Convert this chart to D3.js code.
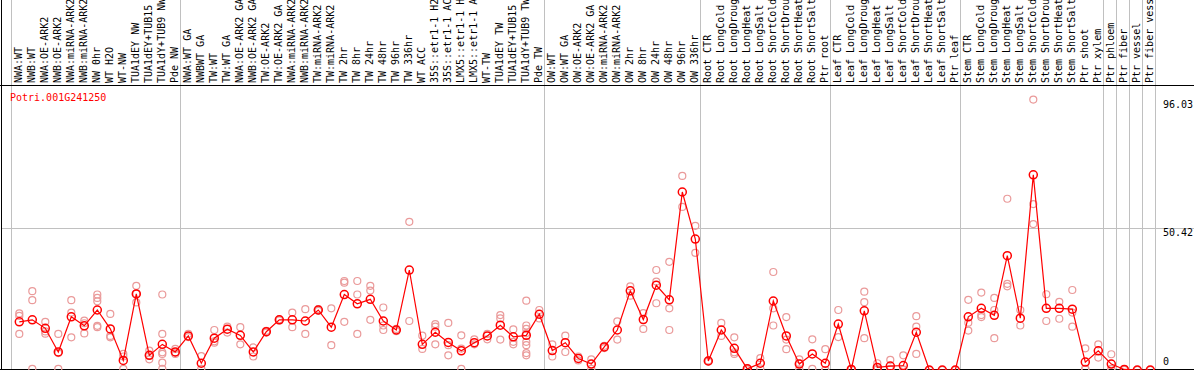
<!DOCTYPE html>
<html>
<head>
<meta charset="utf-8">
<script src="https://cdn.jsdelivr.net/npm/d3@7"></script>
<style>
    body { margin: 0; background: #fff; }
    text { font-family: "DejaVu Sans Mono", monospace; font-size: 10px; }
</style>
</head>
<body>
<div id="chart"></div>
<script>
const GENE = "Potri.001G241250";

const samples = [
    "NWA:WT", "NWB:WT", "NWA:OE-ARK2", "NWB:OE-ARK2", "NWA:miRNA-ARK2", "NWB:miRNA-ARK2",
    "NW 0hr", "WT H2O", "WT-NW", "TUA1dEY NW", "TUA1dEY+TUB15 NW", "TUA1dY+TUB9 NW", "Pde NW",
    "NWA:WT GA", "NWBWT GA", "TW:WT", "TW:WT GA", "NWA:OE-ARK2 GA", "NWB:OE-ARK2 GA",
    "TW:OE-ARK2", "TW:OE-ARK2 GA", "NWA:miRNA-ARK2 GA", "NWB:miRNA-ARK2 GA", "TW:miRNA-ARK2",
    "TW:miRNA-ARK2 GA", "TW 2hr", "TW 8hr", "TW 24hr", "TW 48hr", "TW 96hr", "TW 336hr",
    "WT ACC", "35S::etr1-1 H2O", "35S::etr1-1 ACC", "LMX5::etr1-1 H2O", "LMX5::etr1-1 ACC",
    "WT-TW", "TUA1dEY TW", "TUA1dEY+TUB15 TW", "TUA1dY+TUB9 TW", "Pde TW",
    "OW:WT", "OW:WT GA", "OW:OE-ARK2", "OW:OE-ARK2 GA", "OW:miRNA-ARK2", "OW:miRNA-ARK2 GA",
    "OW 2hr", "OW 8hr", "OW 24hr", "OW 48hr", "OW 96hr", "OW 336hr",
    "Root CTR", "Root LongCold", "Root LongDrought", "Root LongHeat", "Root LongSalt",
    "Root ShortCold", "Root ShortDrought", "Root ShortHeat", "Root ShortSalt", "Ptr root",
    "Leaf CTR", "Leaf LongCold", "Leaf LongDrought", "Leaf LongHeat", "Leaf LongSalt",
    "Leaf ShortCold", "Leaf ShortDrought", "Leaf ShortHeat", "Leaf ShortSalt", "Ptr leaf",
    "Stem CTR", "Stem LongCold", "Stem LongDrought", "Stem LongHeat", "Stem LongSalt",
    "Stem ShortCold", "Stem ShortDrought", "Stem ShortHeat", "Stem ShortSalt", "Ptr shoot", "Ptr xylem",
    "Ptr phloem", "Ptr fiber", "Ptr vessel", "Ptr fiber vessel"
];

// number of samples in each study block (separated by grey lines)
const groupSizes = [13, 28, 12, 10, 10, 11, 1, 1, 1, 1];

const means = [
    17.1, 17.8, 14.8, 6.4, 18.9, 15.7, 21.3, 14.6, 3.4, 27.0, 5.2, 9.1, 6.4,
    12.1, 2.4, 11.3, 14.5, 12.3, 6.4, 13.6, 17.8, 17.8, 17.4, 21.3, 15.2, 26.8, 23.5,
    25.1, 17.4, 14.2, 35.5, 9.1, 13.4, 9.8, 6.8, 9.7, 12.1, 15.9, 11.8, 12.3, 19.8,
    6.9, 9.7, 4.1, 2.1, 8.2, 14.2, 28.1, 17.9, 30.1, 24.9, 63.2, 46.5,
    3.2, 14.2, 7.7, 0.4, 2.4, 24.5, 12.1, 2.1, 5.7, 2.4,
    16.3, 0.2, 21.0, 0.9, 1.4, 1.6, 13.4, 0, 0, 0,
    18.9, 21.9, 19.4, 40.6, 18.4, 69.3, 21.9, 21.9, 21.6, 2.8, 6.8,
    2.1, 0.2, 0, 0
];

const replicates = [
    [20.1, 19.2, 12.8], [28.0, 24.8, 0.4], [17.1, 13.7, 12.9], [12.8, 6.0, 0.4],
    [24.8, 20.4, 11.6], [17.5, 16.6, 13.0], [26.8, 25.6, 24.4, 15.7, 15.2], [19.9, 12.1, 11.6],
    [5.7, 4.8, 0.4], [29.9, 27.1, 24.0], [6.9, 5.2, 3.8], [26.8, 12.8, 6.3, 5.7, 2.6, 0.4],
    [7.5, 6.2, 5.7],
    [12.8, 11.7], [4.9, 0.4], [14.2, 10.2, 9.7], [15.4, 13.3], [15.2, 9.1], [8.0, 4.8],
    [13.9, 13.3], [18.0, 17.6], [20.4, 15.2], [21.6, 12.8], [21.6, 21.0], [21.9, 8.8],
    [31.6, 31.0, 17.1], [31.6, 26.8, 12.8], [29.9, 28.2, 17.8], [22.2, 15.8, 14.2],
    [14.6, 13.8], [52.6, 17.4], [12.2, 7.5], [16.3, 15.4, 9.1], [16.7, 8.8, 5.2],
    [12.3, 7.6, 0.4], [10.9, 9.1], [12.8, 10.9], [19.5, 18.3, 10.8], [14.4, 10.0, 9.1],
    [24.6, 15.8, 14.6, 13.1, 10.0, 8.8, 6.0, 5.2], [21.3, 18.3],
    [9.1, 4.8], [12.2, 6.4], [4.8, 3.4], [3.8, 0.4], [8.6, 7.8], [17.3, 10.8],
    [29.7, 26.4], [20.2, 14.6], [35.5, 31.4, 23.7], [38.4, 21.9, 14.2], [68.9, 57.9], [51.2, 41.6],
    [3.4, 3.0], [16.7, 12.1], [11.6, 6.3, 5.7], [0.6, 0.2], [4.2, 0.6], [34.8, 21.9, 15.8],
    [18.8, 10.8, 7.4], [3.8, 2.4, 0.2], [10.9, 0.4], [7.4, 0, 0],
    [21.3, 11.7], [0.4, 0.2], [27.8, 24.1, 11.3], [2.4, 0.2, 0.2], [3.6, 0.4, 0.2],
    [5.2, 0.2, 0], [19.1, 15.4, 5.7], [0, 0], [0, 0], [0, 0],
    [24.9, 16.8, 14.0], [27.5, 19.5, 18.8], [25.6, 21.3, 11.3], [60.8, 30.6, 29.7],
    [21.3, 15.8], [96.03, 58.9, 51.8], [26.9, 17.4], [24.2, 18.2], [28.4, 20.4, 15.4],
    [7.7, 0.4, 0.4], [9.1, 4.4],
    [5.6, 0.4, 0.3], [0.3, 0], [0, 0], [0, 0]
];

const yMax = 100.84;
const yTicks = [96.03, 50.42, 0];

const width = 1194;
const height = 370;
const headerBottom = 85;

const svg = d3.select("#chart")
    .append("svg")
        .attr("width", width)
        .attr("height", height);

const x = d3.scaleBand()
    .domain(d3.range(samples.length))
    .range([11, 11 + 13 * samples.length]);

const y = d3.scaleLinear()
    .domain([0, yMax])
    .range([370, 86]);

const cx = i => x(i) + 8.3;
const edge = k => (k < samples.length ? x(k) : x.range()[1]) + 0.5;

// grey separators between study blocks
const bounds = [0].concat(Array.from(d3.cumsum(groupSizes)));
svg.selectAll(".sep")
    .data(bounds)
    .enter()
    .append("line")
        .attr("class", "sep")
        .attr("x1", d => edge(d))
        .attr("x2", d => edge(d))
        .attr("y1", 0)
        .attr("y2", height)
        .style("stroke", "#c0c0c0")
        .style("shape-rendering", "crispEdges");

// middle gridline
svg.append("line")
    .attr("x1", 1)
    .attr("x2", width)
    .attr("y1", Math.round(y(yMax / 2)) + 0.5)
    .attr("y2", Math.round(y(yMax / 2)) + 0.5)
    .style("stroke", "#c0c0c0")
    .style("shape-rendering", "crispEdges");

// frame
svg.append("line")
    .attr("x1", 0).attr("x2", width)
    .attr("y1", headerBottom + 0.5).attr("y2", headerBottom + 0.5)
    .style("stroke", "#000").style("shape-rendering", "crispEdges");
svg.append("line")
    .attr("x1", 0).attr("x2", width)
    .attr("y1", height - 0.5).attr("y2", height - 0.5)
    .style("stroke", "#000").style("shape-rendering", "crispEdges");
svg.append("line")
    .attr("x1", 1.5).attr("x2", 1.5)
    .attr("y1", 0).attr("y2", height)
    .style("stroke", "#000").style("shape-rendering", "crispEdges");

// sample labels
svg.selectAll(".label")
    .data(samples)
    .enter()
    .append("text")
        .attr("class", "label")
        .attr("transform", (d, i) => `translate(${x(i) + 11},${headerBottom - 2}) rotate(-90)`)
        .style("fill", "#000")
        .text(d => d);

// right side values
svg.selectAll(".ytick")
    .data(yTicks)
    .enter()
    .append("text")
        .attr("class", "ytick")
        .attr("x", 1163)
        .attr("y", d => d === 0 ? 365 : Math.round(y(d)) + 8)
        .style("fill", "#000")
        .text(d => d);

// gene name
svg.append("text")
    .attr("x", 10)
    .attr("y", 101)
    .style("fill", "#ff0000")
    .text(GENE);

// replicate points
const reps = [];
replicates.forEach((r, i) => r.forEach(v => reps.push({ i: i, v: v })));

svg.append("g")
    .selectAll("circle")
    .data(reps)
    .enter()
    .append("circle")
        .attr("cx", d => cx(d.i))
        .attr("cy", d => y(d.v))
        .attr("r", 3.5)
        .style("fill", "none")
        .style("stroke", "#ea9a9a")
        .style("stroke-width", 1.2);

// mean line
const line = d3.line()
    .x((d, i) => cx(i))
    .y(d => y(d));

svg.append("path")
    .datum(means)
    .attr("d", line)
    .style("fill", "none")
    .style("stroke", "#ff0000")
    .style("stroke-width", 1.2);

svg.append("g")
    .selectAll("circle")
    .data(means)
    .enter()
    .append("circle")
        .attr("cx", (d, i) => cx(i))
        .attr("cy", d => y(d))
        .attr("r", 4)
        .style("fill", "none")
        .style("stroke", "#ff0000")
        .style("stroke-width", 1.5);
</script>
</body>
</html>
